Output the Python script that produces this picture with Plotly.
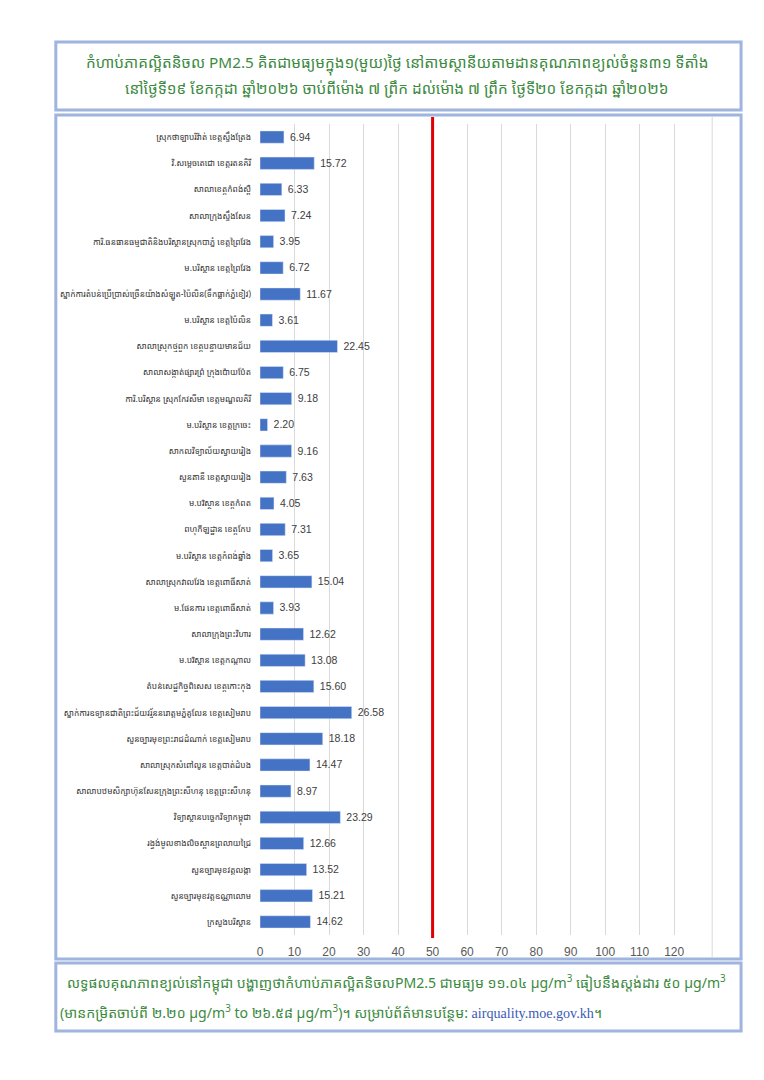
import plotly.graph_objects as go

# the page adds an 8px body margin, so the figure is sized to fit inside it
OFF = 8
W, H = 764 - 2 * OFF, 1080 - 2 * OFF

STATIONS = [
    "ស្រុកថាឡាបរិវ៉ាត់ ខេត្តស្ទឹងត្រែង",
    "វិ.សម្តេចតេជោ ខេត្តរតនគិរី",
    "សាលាខេត្តកំពង់ស្ពឺ",
    "សាលាក្រុងស្ទឹងសែន",
    "ការិ.ធនធានធម្មជាតិនិងបរិស្ថានស្រុកបាភ្នំ ខេត្តព្រៃវែង",
    "ម.បរិស្ថាន ខេត្តព្រៃវែង",
    "ស្នាក់ការតំបន់ប្រើប្រាស់ច្រើនយ៉ាងសំឡូត-ប៉ៃលិន(ទឹកធ្លាក់ភ្នំខៀវ)",
    "ម.បរិស្ថាន ខេត្តប៉ៃលិន",
    "សាលាស្រុកថ្មពួក ខេត្តបន្ទាយមានជ័យ",
    "សាលាសង្កាត់ផ្សារព្រំ ក្រុងប៉ោយប៉ែត",
    "ការិ.បរិស្ថាន ស្រុកកែវសីមា ខេត្តមណ្ឌលគិរី",
    "ម.បរិស្ថាន ខេត្តក្រចេះ",
    "សាកលវិទ្យាល័យស្វាយរៀង",
    "សួនតានី ខេត្តស្វាយរៀង",
    "ម.បរិស្ថាន ខេត្តកំពត",
    "ពហុកីឡដ្ឋាន ខេត្តកែប",
    "ម.បរិស្ថាន ខេត្តកំពង់ឆ្នាំង",
    "សាលាស្រុកវាលវែង ខេត្តពោធិ៍សាត់",
    "ម.ផែនការ ខេត្តពោធិ៍សាត់",
    "សាលាក្រុងព្រះវិហារ",
    "ម.បរិស្ថាន ខេត្តកណ្ដាល",
    "តំបន់សេដ្ឋកិច្ចពិសេស ខេត្តកោះកុង",
    "ស្នាក់ការឧទ្យានជាតិព្រះជ័យវរ្ម័ននរោត្តមភ្នំគូលែន ខេត្តសៀមរាប",
    "សួនច្បារមុខព្រះរាជដំណាក់ ខេត្តសៀមរាប",
    "សាលាស្រុកសំពៅលូន ខេត្តបាត់ដំបង",
    "សាលាបឋមសិក្សាហ៊ុនសែនក្រុងព្រះសីហនុ ខេត្តព្រះសីហនុ",
    "វិទ្យាស្ថានបច្ចេកវិទ្យាកម្ពុជា",
    "រង្វង់មូលខាងលិចស្ពានព្រលាយជ្រៃ",
    "សួនច្បារមុខវត្តលង្កា",
    "សួនច្បារមុខវត្តឧណ្ណាលោម",
    "ក្រសួងបរិស្ថាន",
]

PM25 = [
    6.94, 15.72, 6.33, 7.24, 3.95, 6.72, 11.67, 3.61, 22.45, 6.75, 9.18,
    2.20, 9.16, 7.63, 4.05, 7.31, 3.65, 15.04, 3.93, 12.62, 13.08, 15.60,
    26.58, 18.18, 14.47, 8.97, 23.29, 12.66, 13.52, 15.21, 14.62,
]

TICKS = [0, 10, 20, 30, 40, 50, 60, 70, 80, 90, 100, 110, 120]
STANDARD = 50

TITLE_1 = ("កំហាប់ភាគល្អិតនិចល PM2.5 គិតជាមធ្យមក្នុង១(មួយ)ថ្ងៃ "
           "នៅតាមស្ថានីយតាមដានគុណភាពខ្យល់ចំនួន៣១ ទីតាំង")
TITLE_2 = ("នៅថ្ងៃទី១៩ ខែកក្កដា ឆ្នាំ២០២៦ ចាប់ពីម៉ោង ៧ ព្រឹក "
           "ដល់ម៉ោង ៧ ព្រឹក ថ្ងៃទី២០ ខែកក្កដា ឆ្នាំ២០២៦")
NOTE_1 = ("លទ្ធផលគុណភាពខ្យល់នៅកម្ពុជា បង្ហាញថាកំហាប់ភាគល្អិតនិចលPM2.5 ជាមធ្យម "
          "១១.០៤ µg/m<sup>3</sup> ធៀបនឹងស្តង់ដារ ៥០ µg/m<sup>3</sup>")
NOTE_2 = ("(មានកម្រិតចាប់ពី ២.២០ µg/m<sup>3</sup> to ២៦.៥៨ µg/m<sup>3</sup>)។ "
          "សម្រាប់ព័ត៌មានបន្ថែម: "
          "<span style='font-family:Liberation Serif;color:#3B5BB5'>airquality.moe.gov.kh</span>។")

GREEN = "#3C8A3F"
BOX = "#9FB4DE"


def px(x):
    # screen pixel -> paper fraction
    return (x - OFF) / W


def py(y):
    return 1 - (y - OFF) / H


fig = go.Figure()
fig.add_trace(
    go.Bar(
        x=PM25,
        y=STATIONS,
        orientation="h",
        marker=dict(color="#4472C4"),
        width=0.47,
        text=PM25,
        texttemplate=" %{x:.2f}",
        textposition="outside",
        textfont=dict(family="Liberation Sans", size=12, color="#404040"),
        cliponaxis=False,
        showlegend=False,
    )
)

shapes = []
# three framed boxes
for y0, y1 in [(42, 110), (115, 959), (963, 1031)]:
    shapes.append(dict(type="rect", xref="paper", yref="paper",
                       x0=px(53), x1=px(741), y0=py(y1), y1=py(y0),
                       line=dict(color=BOX, width=3)))
# right edge line of the chart
shapes.append(dict(type="line", xref="paper", yref="paper",
                   x0=px(712), x1=px(712), y0=py(957), y1=py(117),
                   line=dict(color="#D9D9D9", width=1)))
# standard line
shapes.append(dict(type="line", xref="x", yref="paper",
                   x0=STANDARD, x1=STANDARD, y0=py(938), y1=py(117),
                   line=dict(color="#E00000", width=3)))

# khmer text boxes sit lower/higher than their anchor, hence the tuned y values
annotations = [
    dict(text=TITLE_1, x=px(396), y=py(50), xref="paper", yref="paper",
         showarrow=False, font=dict(size=15.3, color=GREEN)),
    dict(text=TITLE_2, x=px(396), y=py(76), xref="paper", yref="paper",
         showarrow=False, font=dict(size=15.3, color=GREEN)),
    dict(text=NOTE_1, x=px(62), y=py(997), xref="paper", yref="paper",
         xanchor="left", showarrow=False, font=dict(size=14.1, color=GREEN)),
    dict(text=NOTE_2, x=px(55), y=py(1024), xref="paper", yref="paper",
         xanchor="left", showarrow=False, font=dict(size=14.1, color=GREEN)),
]

fig.update_layout(
    width=W,
    height=H,
    margin=dict(l=0, r=0, t=0, b=0),
    plot_bgcolor="white",
    paper_bgcolor="white",
    font=dict(family="Noto Sans Khmer, Noto Sans, sans-serif"),
    xaxis=dict(
        domain=[px(258), px(712)],
        range=[0, 131],
        tickvals=TICKS,
        showgrid=True,
        gridcolor="#D9D9D9",
        gridwidth=1,
        zeroline=False,
        showline=False,
        tickfont=dict(family="Liberation Sans", size=12, color="#595959"),
        ticklabelstandoff=8,
    ),
    yaxis=dict(
        domain=[py(935), py(124)],
        autorange="reversed",
        showgrid=False,
        showline=False,
        tickfont=dict(size=8.4, color="#333333"),
        ticklabelstandoff=8,
    ),
    shapes=shapes,
    annotations=annotations,
)

fig.write_html("out.html")
